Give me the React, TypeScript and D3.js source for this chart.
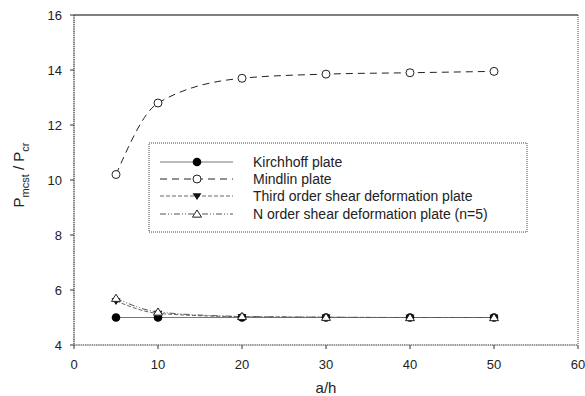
import React from "react";
import * as d3 from "d3";

const aH = [5, 10, 20, 30, 40, 50];
const kirchhoff = [5.0, 5.0, 5.0, 5.0, 5.0, 5.0];
const mindlin = [10.2, 12.8, 13.7, 13.85, 13.9, 13.95];
const thirdOrder = [5.6, 5.15, 5.03, 5.01, 5.0, 5.0];
const nOrder = [5.7, 5.2, 5.04, 5.01, 5.0, 5.0];
const xTicks = [0, 10, 20, 30, 40, 50, 60];
const yTicks = [4, 6, 8, 10, 12, 14, 16];
const seriesNames = [
  "Kirchhoff plate",
  "Mindlin plate",
  "Third order shear deformation plate",
  "N order shear deformation plate (n=5)",
];

const W = 585, H = 396;
const left = 74, right = 578, top = 15, bottom = 345;

export default function App() {
  const x = d3.scaleLinear().domain([0, 60]).range([left, right]);
  const y = d3.scaleLinear().domain([4, 16]).range([bottom, top]);
  const line = d3
    .line<number>()
    .x((_, i) => x(aH[i]))
    .y((v) => y(v))
    .curve(d3.curveMonotoneX);

  const styles = [
    { dash: "none", color: "#777" },
    { dash: "7,5", color: "#222" },
    { dash: "4,2", color: "#666" },
    { dash: "6,2,1,2,1,2", color: "#555" },
  ];
  const data = [kirchhoff, mindlin, thirdOrder, nOrder];

  const marker = (k: number, cx: number, cy: number, key: string) => {
    if (k === 0) return <circle key={key} cx={cx} cy={cy} r={4.3} fill="#000" />;
    if (k === 1)
      return <circle key={key} cx={cx} cy={cy} r={4} fill="#fff" stroke="#222" strokeWidth={1} />;
    if (k === 2) {
      const s = 4.5;
      return (
        <path
          key={key}
          d={`M${cx - s},${cy - s * 0.6}L${cx + s},${cy - s * 0.6}L${cx},${cy + s * 0.9}Z`}
          fill="#111"
        />
      );
    }
    const s = 4.5;
    return (
      <path
        key={key}
        d={`M${cx - s},${cy + s * 0.7}L${cx + s},${cy + s * 0.7}L${cx},${cy - s * 0.9}Z`}
        fill="#fff"
        stroke="#222"
        strokeWidth={1}
      />
    );
  };

  const font = "Liberation Sans, Arial, sans-serif";
  const legendRows = [162, 179, 196, 214];

  return (
    <svg width={W} height={H} style={{ display: "block", position: "absolute", left: 0, top: 0 }} fontFamily={font}>
      <rect width={W} height={H} fill="#fff" />
      {/* frame */}
      <line x1={left} y1={top} x2={right} y2={top} stroke="#000" strokeWidth={1} />
      <line x1={right} y1={top} x2={right} y2={bottom} stroke="#444" strokeWidth={1} strokeDasharray="1,1" />
      <line x1={left} y1={top} x2={left} y2={bottom} stroke="#333" strokeWidth={1.2} strokeDasharray="1.5,0.7" />
      <line x1={left} y1={bottom} x2={right} y2={bottom} stroke="#333" strokeWidth={1.2} strokeDasharray="1.5,0.7" />
      {/* y ticks */}
      {yTicks.map((t) => (
        <g key={"y" + t}>
          <line x1={left - 4} x2={left} y1={y(t)} y2={y(t)} stroke="#333" />
          <text x={left - 12} y={y(t) + 4.5} fontSize={13} textAnchor="end" fill="#222">
            {t}
          </text>
        </g>
      ))}
      {xTicks.map((t) => (
        <g key={"x" + t}>
          <line x1={x(t)} x2={x(t)} y1={bottom} y2={bottom + 4} stroke="#333" />
          <text x={x(t)} y={bottom + 24} fontSize={13} textAnchor="middle" fill="#222">
            {t}
          </text>
        </g>
      ))}
      <text x={(left + right) / 2} y={393} fontSize={15} textAnchor="middle" fill="#222">
        a/h
      </text>
      <text transform={`translate(24,175) rotate(-90)`} fontSize={15} textAnchor="middle" fill="#222">
        P<tspan fontSize={11} dy={5}>mcst</tspan>
        <tspan dy={-5}> / P</tspan>
        <tspan fontSize={11} dy={5}>cr</tspan>
      </text>
      {/* series lines */}
      {data.map((d, k) => (
        <path
          key={"l" + k}
          d={line(d) || ""}
          fill="none"
          stroke={styles[k].color}
          strokeWidth={1}
          strokeDasharray={styles[k].dash}
        />
      ))}
      {data.map((d, k) => d.map((v, i) => marker(k, x(aH[i]), y(v), `m${k}-${i}`)))}
      {/* legend */}
      <rect x={149} y={143} width={378} height={89} fill="#fff" stroke="#444" strokeWidth={1} strokeDasharray="1,1" />
      {seriesNames.map((n, k) => (
        <g key={"lg" + k}>
          <line
            x1={160}
            x2={233}
            y1={legendRows[k]}
            y2={legendRows[k]}
            stroke={styles[k].color}
            strokeDasharray={styles[k].dash}
          />
          {marker(k, 197, legendRows[k], "lm" + k)}
          <text x={253} y={legendRows[k] + 5} fontSize={14} fill="#222">
            {n}
          </text>
        </g>
      ))}
    </svg>
  );
}
